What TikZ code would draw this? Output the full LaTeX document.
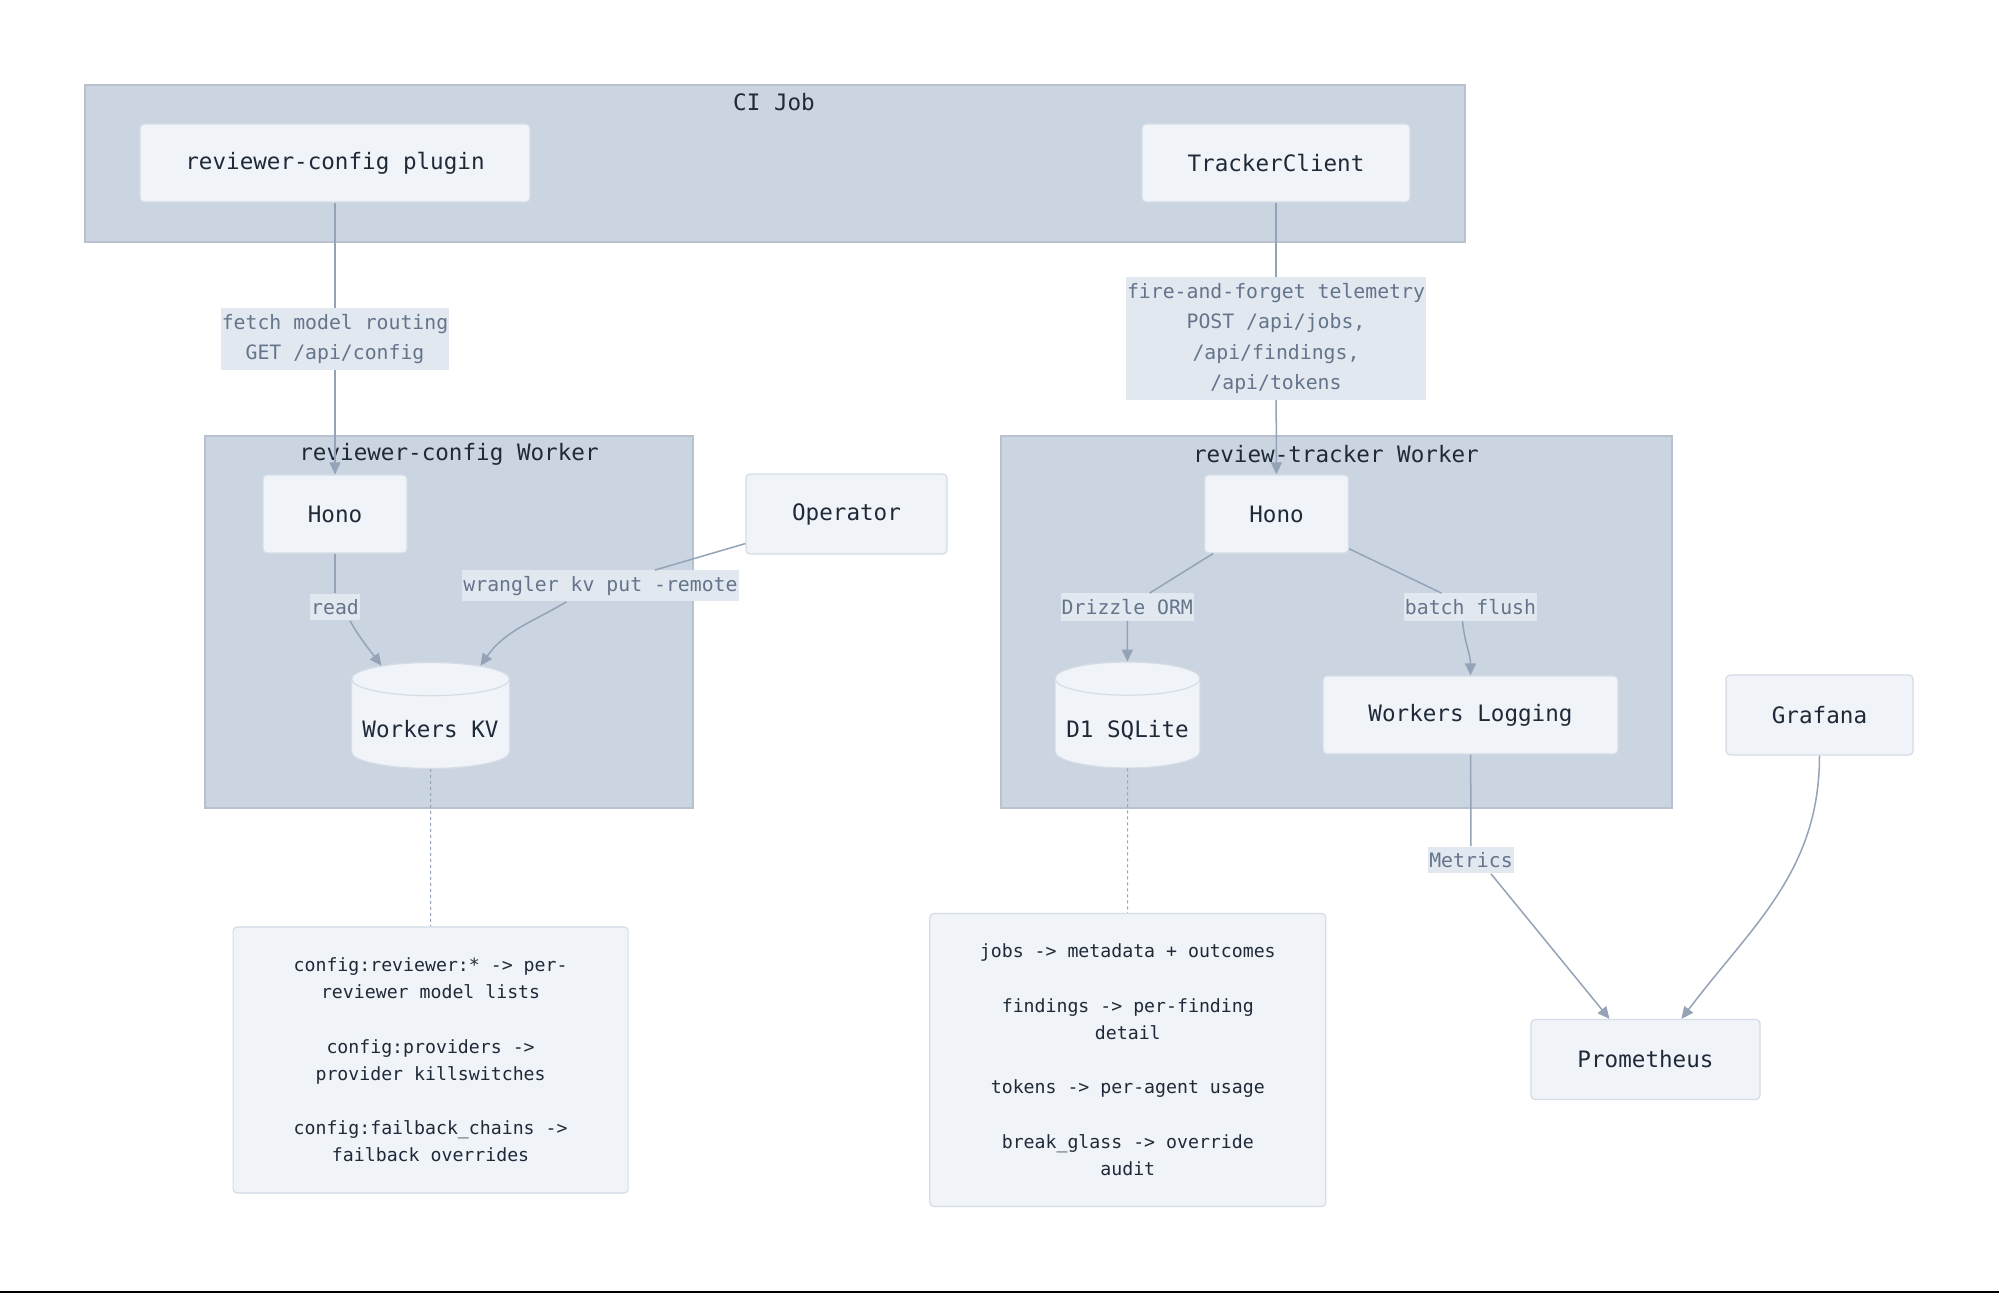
\documentclass[tikz,border=0pt]{standalone}
\usepackage{fontspec}
\setmonofont{DejaVu Sans Mono}
\usetikzlibrary{arrows.meta,shapes.geometric,positioning}
\definecolor{GroupFill}{HTML}{CBD5E1}
\definecolor{GroupLine}{HTML}{B8C1CD}
\definecolor{BoxFill}{HTML}{F0F4F9}
\definecolor{BoxLine}{HTML}{D5DCE5}
\definecolor{TagFill}{HTML}{E2E8F0}
\definecolor{TagText}{HTML}{64748B}
\definecolor{EdgeLine}{HTML}{94A3B8}
\definecolor{InkText}{HTML}{1F2937}
\tikzset{
  Group/.style={fill=GroupFill,draw=GroupLine,line width=0.6pt},
  GroupTitle/.style={font=\ttfamily\fontsize{11.3}{13.6}\selectfont,text=InkText,inner sep=0pt},
  Box/.style={rectangle,rounded corners=2pt,fill=BoxFill,draw=BoxLine,line width=0.6pt,
    font=\ttfamily\fontsize{11.3}{13.6}\selectfont,text=InkText,minimum height=39pt},
  Store/.style={rectangle,inner sep=0pt,minimum width=#1,minimum height=53pt,
    text height=24.5pt,text depth=2.4pt,font=\ttfamily\fontsize{11.3}{13.6}\selectfont,text=InkText,
    path picture={
      \draw[fill=BoxFill,draw=BoxLine,line width=0.6pt]
        ([yshift=-8.3pt]path picture bounding box.north west)
        -- ([yshift=8.3pt]path picture bounding box.south west)
        arc[start angle=180,end angle=360,x radius=#1/2,y radius=8.3pt]
        -- ([yshift=-8.3pt]path picture bounding box.north east)
        arc[start angle=0,end angle=180,x radius=#1/2,y radius=8.3pt] -- cycle;
      \draw[BoxLine,line width=0.6pt] ([yshift=-8.3pt]path picture bounding box.north west)
        arc[start angle=180,end angle=360,x radius=#1/2,y radius=8.3pt];
    }},
  Tag/.style={fill=TagFill,text=TagText,font=\ttfamily\fontsize{9.9}{15.2}\selectfont,
    align=center,inner xsep=0.5pt,inner ysep=2.9pt},
  Note/.style={Box,align=center,font=\ttfamily\fontsize{9.1}{13.6}\selectfont},
  EdgeStyle/.style={draw=EdgeLine,line width=0.75pt},
  NoteLink/.style={draw=EdgeLine,line width=0.5pt,dash pattern=on 1.5pt off 1.5pt},
  >={Triangle[length=6pt,width=5.5pt]}
}

\begin{document}
\begin{tikzpicture}[x=0.5pt,y=-0.5pt]
  \fill[white] (0,0) rectangle (1999,1293);
  \useasboundingbox (0,0) rectangle (1999,1293);

  \draw[Group] (85,85) rectangle (1465,242);
  \draw[Group] (205,436) rectangle (693,808);
  \draw[Group] (1001,436) rectangle (1672,808);
  \node[GroupTitle] (ciT) at (774,102) {CI Job};
  \node[GroupTitle] (rcT) at (449,454) {reviewer-config Worker};
  \node[GroupTitle] (rtT) at (1336,454) {review-tracker Worker};

  \node[Box,minimum width=195pt] (plugin) at (335,163) {reviewer-config plugin};
  \node[Box,minimum width=134pt] (tracker) at (1276,163) {TrackerClient};
  \node[Box,minimum width=72pt] (honoA) at (335,514) {Hono};
  \node[Box,minimum width=100.5pt,minimum height=40pt] (operator) at (846.5,514) {Operator};
  \node[Store=79pt] (kv) at (430.5,715.5) {Workers KV};
  \node[Box,minimum width=72pt] (honoB) at (1276.5,514) {Hono};
  \node[Store=72.5pt] (d1) at (1127.5,715) {D1 SQLite};
  \node[Box,minimum width=147.5pt] (logging) at (1470.5,715) {Workers Logging};
  \node[Box,minimum width=93.5pt,minimum height=40pt] (grafana) at (1819.5,715) {Grafana};
  \node[Box,minimum width=114.5pt,minimum height=40pt] (prom) at (1645.5,1059.5) {Prometheus};
  \node[Note,minimum width=197.5pt,minimum height=133pt] (kvNote) at (430.6,1060)
    {config:reviewer:* -> per-\\reviewer model lists\\[13.6pt]config:providers ->\\provider killswitches\\[13.6pt]config:failback\_chains ->\\failback overrides};
  \node[Note,minimum width=198pt,minimum height=146.5pt] (d1Note) at (1127.8,1060)
    {jobs -> metadata + outcomes\\[13.6pt]findings -> per-finding\\detail\\[13.6pt]tokens -> per-agent usage\\[13.6pt]break\_glass -> override\\audit};

  \node[Tag] (tFetch) at (335,339) {fetch model routing\\GET /api/config};
  \node[Tag] (tFire) at (1276,338.5) {fire-and-forget telemetry\\POST /api/jobs,\\/api/findings,\\/api/tokens};
  \node[Tag] (tRead) at (335,607) {read};
  \node[Tag] (tWrangler) at (600.5,586) {wrangler kv put -remote};
  \node[Tag] (tDrizzle) at (1127.3,607) {Drizzle ORM};
  \node[Tag] (tBatch) at (1470.5,607) {batch flush};
  \node[Tag] (tMetrics) at (1471,860) {Metrics};

  \draw[EdgeStyle] (plugin) -- (tFetch);
  \draw[EdgeStyle,->] (tFetch) -- (honoA);
  \draw[EdgeStyle] (tracker) -- (tFire);
  \draw[EdgeStyle,->] (tFire) -- (honoB);
  \draw[EdgeStyle] (honoA) -- (tRead);
  \draw[EdgeStyle,->] ([xshift=7.5pt]tRead.south) to[out=-60,in=127] ([xshift=-24.5pt,yshift=-1.8pt]kv.north);
  \draw[EdgeStyle] (operator) -- (tWrangler);
  \draw[EdgeStyle,->] ([xshift=-17pt]tWrangler.south) to[out=-150,in=55] ([xshift=25pt,yshift=-1.8pt]kv.north);
  \draw[EdgeStyle] (honoB) -- (tDrizzle);
  \draw[EdgeStyle,->] (tDrizzle) -- (d1);
  \draw[EdgeStyle] (honoB) -- (tBatch);
  \draw[EdgeStyle,->] ([xshift=-4pt]tBatch.south) to[out=-85,in=90] (logging.north);
  \draw[EdgeStyle] (logging) -- (tMetrics);
  \draw[EdgeStyle,->] ([xshift=10pt]tMetrics.south) -- ([xshift=-18pt]prom.north);
  \draw[EdgeStyle,->] (grafana.south) to[out=-90,in=53] ([xshift=18pt]prom.north);
  \draw[NoteLink] (kv) -- (kvNote);
  \draw[NoteLink] (d1) -- (d1Note);

  \fill[black] (0,1290.5) rectangle (1999,1293);
\end{tikzpicture}
\end{document}
